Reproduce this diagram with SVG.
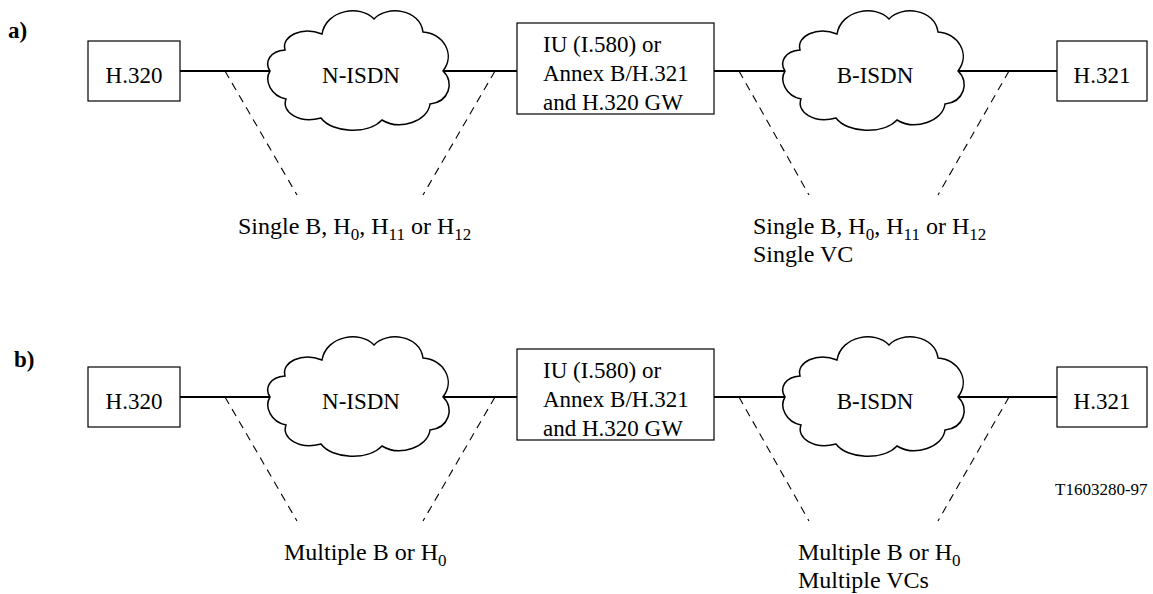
<svg xmlns="http://www.w3.org/2000/svg" width="1153" height="594" viewBox="0 0 1153 594">
<style>
  text { font-family: "Liberation Serif", "Times New Roman", serif; fill: #000; }
  .t { font-size: 23px; }
  .l { font-size: 24px; }
  .c { text-anchor: middle; }
  .lbl { font-size: 23px; font-weight: bold; }
  .sub { font-size: 17px; }
  .box { fill: #fff; stroke: #000; stroke-width: 1.2; }
  .cloud { fill: #fff; stroke: #000; stroke-width: 1.5; }
  .solid { stroke: #000; stroke-width: 2; fill: none; }
  .dash { stroke: #000; stroke-width: 1.1; stroke-dasharray: 8 6; fill: none; }
  .ref { font-size: 17px; }
</style>
<defs>
  <path id="cloudShape" class="cloud" d="M 0,0 C -6,-9 0,-20 15,-21 C 11,-35 32,-45 52,-37 C 56,-61 90,-67 104,-52 C 117,-66 150,-62 153,-39 C 173,-38 186,-17 173,0 C 185,11 179,31 160,33 C 158,50 130,60 112,49 C 98,64 62,62 51,47 C 29,53 11,41 16,28 C 1,25 -6,10 0,0 Z"/>
</defs>

<text class="lbl" x="8" y="38">a)</text>
<text class="lbl" x="14" y="367">b)</text>

<g id="connectors">
  <!-- a) -->
  <line class="solid" x1="180" y1="71" x2="270" y2="71"/>
  <line class="solid" x1="443" y1="71" x2="517" y2="71"/>
  <line class="solid" x1="714" y1="71" x2="785" y2="71"/>
  <line class="solid" x1="958" y1="71" x2="1057" y2="71"/>
  <line class="dash" x1="225" y1="71" x2="297" y2="195"/>
  <line class="dash" x1="495" y1="71" x2="423" y2="195"/>
  <line class="dash" x1="739" y1="71" x2="809" y2="195"/>
  <line class="dash" x1="1009" y1="71" x2="938" y2="195"/>
  <!-- b) -->
  <line class="solid" x1="180" y1="397" x2="270" y2="397"/>
  <line class="solid" x1="443" y1="397" x2="517" y2="397"/>
  <line class="solid" x1="714" y1="397" x2="785" y2="397"/>
  <line class="solid" x1="958" y1="397" x2="1057" y2="397"/>
  <line class="dash" x1="225" y1="397" x2="297" y2="521"/>
  <line class="dash" x1="495" y1="397" x2="423" y2="521"/>
  <line class="dash" x1="739" y1="397" x2="809" y2="521"/>
  <line class="dash" x1="1009" y1="397" x2="938" y2="521"/>
</g>

<!-- a) row -->
<g id="a-h320">
  <rect class="box" x="88" y="41" width="92" height="60"/>
  <text class="t c" x="134" y="83">H.320</text>
</g>
<g id="a-nisdn">
  <use href="#cloudShape" transform="translate(270,71)"/>
  <text class="t c" x="361" y="83">N-ISDN</text>
</g>
<g id="a-iu">
  <rect class="box" x="517" y="23" width="197" height="91"/>
  <text class="t" x="543" y="52">IU (I.580) or</text>
  <text class="t" x="543" y="81">Annex B/H.321</text>
  <text class="t" x="543" y="110">and H.320 GW</text>
</g>
<g id="a-bisdn">
  <use href="#cloudShape" transform="translate(785,71)"/>
  <text class="t c" x="875" y="83">B-ISDN</text>
</g>
<g id="a-h321">
  <rect class="box" x="1057" y="41" width="90" height="60"/>
  <text class="t c" x="1102" y="83">H.321</text>
</g>
<g id="a-labels">
  <text class="l" x="238" y="234">Single B, H<tspan class="sub" dy="6">0</tspan><tspan dy="-6">, H</tspan><tspan class="sub" dy="6">11</tspan><tspan dy="-6"> or H</tspan><tspan class="sub" dy="6">12</tspan></text>
  <text class="l" x="753" y="234">Single B, H<tspan class="sub" dy="6">0</tspan><tspan dy="-6">, H</tspan><tspan class="sub" dy="6">11</tspan><tspan dy="-6"> or H</tspan><tspan class="sub" dy="6">12</tspan></text>
  <text class="l" x="753" y="262">Single VC</text>
</g>

<!-- b) row -->
<g id="b-h320">
  <rect class="box" x="88" y="367" width="92" height="60"/>
  <text class="t c" x="134" y="409">H.320</text>
</g>
<g id="b-nisdn">
  <use href="#cloudShape" transform="translate(270,397)"/>
  <text class="t c" x="361" y="409">N-ISDN</text>
</g>
<g id="b-iu">
  <rect class="box" x="517" y="349" width="197" height="91"/>
  <text class="t" x="543" y="378">IU (I.580) or</text>
  <text class="t" x="543" y="407">Annex B/H.321</text>
  <text class="t" x="543" y="436">and H.320 GW</text>
</g>
<g id="b-bisdn">
  <use href="#cloudShape" transform="translate(785,397)"/>
  <text class="t c" x="875" y="409">B-ISDN</text>
</g>
<g id="b-h321">
  <rect class="box" x="1057" y="367" width="90" height="60"/>
  <text class="t c" x="1102" y="409">H.321</text>
</g>
<g id="b-labels">
  <text class="l" x="284" y="560">Multiple B or H<tspan class="sub" dy="6">0</tspan></text>
  <text class="l" x="798" y="560">Multiple B or H<tspan class="sub" dy="6">0</tspan></text>
  <text class="l" x="798" y="588">Multiple VCs</text>
</g>
<text class="ref" x="1055" y="495">T1603280-97</text>
</svg>
